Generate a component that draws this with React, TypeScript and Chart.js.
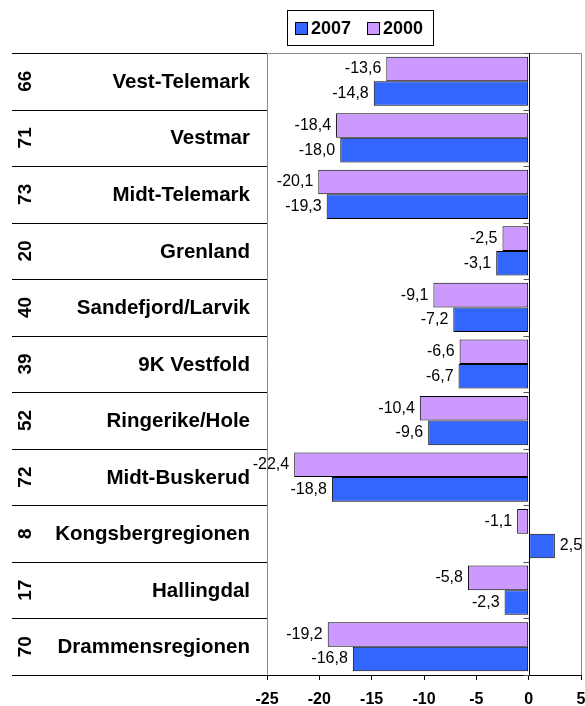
import React, { useEffect, useRef } from "react";
import { Chart, registerables } from "chart.js";

Chart.register(...registerables);

const regions = [
  "Vest-Telemark",
  "Vestmar",
  "Midt-Telemark",
  "Grenland",
  "Sandefjord/Larvik",
  "9K Vestfold",
  "Ringerike/Hole",
  "Midt-Buskerud",
  "Kongsbergregionen",
  "Hallingdal",
  "Drammensregionen",
];
const ranks = ["66", "71", "73", "20", "40", "39", "52", "72", "8", "17", "70"];
const values2000 = [-13.6, -18.4, -20.1, -2.5, -9.1, -6.6, -10.4, -22.4, -1.1, -5.8, -19.2];
const values2007 = [-14.8, -18.0, -19.3, -3.1, -7.2, -6.7, -9.6, -18.8, 2.5, -2.3, -16.8];
const xMin = -25;
const xMax = 5;
const xStep = 5;

const BLUE = "#3366FF";
const PURPLE = "#CC99FF";
const FONT = '"Liberation Sans", Arial, Helvetica, sans-serif';

const fmt = (v: number) => v.toFixed(1).replace(".", ",");

const decorPlugin = {
  id: "decor",
  beforeDatasetsDraw(chart: any) {
    const { ctx, chartArea } = chart;
    const { left, right, top, bottom } = chartArea;
    const x = chart.scales.x;
    const y = chart.scales.y;
    ctx.save();
    ctx.strokeStyle = "#888888";
    ctx.lineWidth = 1;
    ctx.beginPath();
    ctx.moveTo(Math.round(left) + 0.5, bottom);
    ctx.lineTo(Math.round(left) + 0.5, Math.round(top) + 0.5);
    ctx.lineTo(Math.round(right) + 0.5, Math.round(top) + 0.5);
    ctx.lineTo(Math.round(right) + 0.5, bottom);
    ctx.stroke();
    const x0 = Math.round(x.getPixelForValue(0)) + 0.5;
    ctx.strokeStyle = "#000000";
    ctx.beginPath();
    ctx.moveTo(x0, top);
    ctx.lineTo(x0, bottom);
    ctx.stroke();
    const n = regions.length;
    ctx.strokeStyle = "#555555";
    for (let i = 0; i <= n; i++) {
      let yy: number;
      if (i === 0) yy = top;
      else if (i === n) yy = bottom;
      else yy = (y.getPixelForValue(i - 1) + y.getPixelForValue(i)) / 2;
      yy = Math.round(yy) + 0.5;
      ctx.beginPath();
      ctx.moveTo(x0 - 6, yy);
      ctx.lineTo(x0, yy);
      ctx.stroke();
    }
    ctx.restore();
  },
  afterDatasetsDraw(chart: any) {
    const { ctx } = chart;
    ctx.save();
    ctx.font = `16px ${FONT}`;
    ctx.fillStyle = "#000000";
    ctx.textBaseline = "middle";
    chart.data.datasets.forEach((ds: any, di: number) => {
      const meta = chart.getDatasetMeta(di);
      meta.data.forEach((bar: any, i: number) => {
        const v = ds.data[i];
        if (v < 0) {
          ctx.textAlign = "right";
          ctx.fillText(fmt(v), bar.x - 5, bar.y);
        } else {
          ctx.textAlign = "left";
          ctx.fillText(fmt(v), bar.x + 5, bar.y);
        }
      });
    });
    ctx.restore();
  },
  afterDraw(chart: any) {
    const { ctx, chartArea } = chart;
    const { left, top, bottom } = chartArea;
    const y = chart.scales.y;
    const n = regions.length;
    ctx.save();
    ctx.strokeStyle = "#000000";
    ctx.lineWidth = 1;
    for (let i = 0; i <= n; i++) {
      let yy: number;
      if (i === 0) yy = top;
      else if (i === n) yy = bottom;
      else yy = (y.getPixelForValue(i - 1) + y.getPixelForValue(i)) / 2;
      yy = Math.round(yy) + 0.5;
      ctx.beginPath();
      ctx.moveTo(12, yy);
      ctx.lineTo(left, yy);
      ctx.stroke();
    }
    ctx.fillStyle = "#000000";
    ctx.textBaseline = "middle";
    for (let i = 0; i < n; i++) {
      const yc = y.getPixelForValue(i);
      ctx.font = `bold 20.5px ${FONT}`;
      ctx.textAlign = "right";
      ctx.fillText(regions[i], 250, yc + 1);
      ctx.save();
      ctx.font = `bold 19px ${FONT}`;
      ctx.translate(26, yc);
      ctx.rotate(-Math.PI / 2);
      ctx.textAlign = "center";
      ctx.fillText(ranks[i], 0, 0);
      ctx.restore();
    }
    ctx.strokeStyle = "#000000";
    ctx.strokeRect(287.5, 10.5, 146, 35);
    const items = [
      { label: "2007", color: BLUE, x: 295 },
      { label: "2000", color: PURPLE, x: 367 },
    ];
    ctx.font = `bold 18px ${FONT}`;
    ctx.textAlign = "left";
    items.forEach((it) => {
      ctx.fillStyle = it.color;
      ctx.fillRect(it.x + 0.5, 22.5, 12, 12);
      ctx.strokeRect(it.x + 0.5, 22.5, 12, 12);
      ctx.fillStyle = "#000000";
      ctx.fillText(it.label, it.x + 16, 29);
    });
    ctx.restore();
  },
};

export default function App() {
  const ref = useRef<HTMLCanvasElement | null>(null);
  useEffect(() => {
    if (!ref.current) return;
    const chart = new Chart(ref.current, {
      type: "bar",
      data: {
        labels: regions,
        datasets: [
          {
            label: "2000",
            data: values2000,
            backgroundColor: PURPLE,
            borderColor: "#000000",
            borderWidth: 1,
            borderSkipped: false,
            categoryPercentage: 0.87,
            barPercentage: 1,
          },
          {
            label: "2007",
            data: values2007,
            backgroundColor: BLUE,
            borderColor: "#000000",
            borderWidth: 1,
            borderSkipped: false,
            categoryPercentage: 0.87,
            barPercentage: 1,
          },
        ],
      },
      options: {
        indexAxis: "y",
        responsive: false,
        animation: false,
        layout: { padding: { left: 267, right: 4, top: 53, bottom: 0 } },
        scales: {
          x: {
            min: xMin,
            max: xMax,
            afterFit: (scale: any) => {
              scale.height = 31;
              scale.paddingLeft = 0;
              scale.paddingRight = 0;
            },
            ticks: {
              stepSize: xStep,
              color: "#000000",
              font: { family: FONT, size: 16, weight: "bold", lineHeight: 1 },
              padding: 12,
              maxRotation: 0,
            },
            grid: {
              drawOnChartArea: false,
              drawTicks: true,
              tickLength: 5,
              color: "#000000",
            },
            border: { color: "#000000" },
          },
          y: {
            display: false,
          },
        },
        plugins: {
          legend: { display: false },
          tooltip: { enabled: false },
        },
      },
      plugins: [decorPlugin],
    } as any);
    return () => chart.destroy();
  }, []);
  return (
    <div style={{ position: "fixed", left: 0, top: 0, width: 585, height: 706, background: "#ffffff" }}>
      <canvas ref={ref} width={585} height={706} style={{ width: 585, height: 706 }} />
    </div>
  );
}
